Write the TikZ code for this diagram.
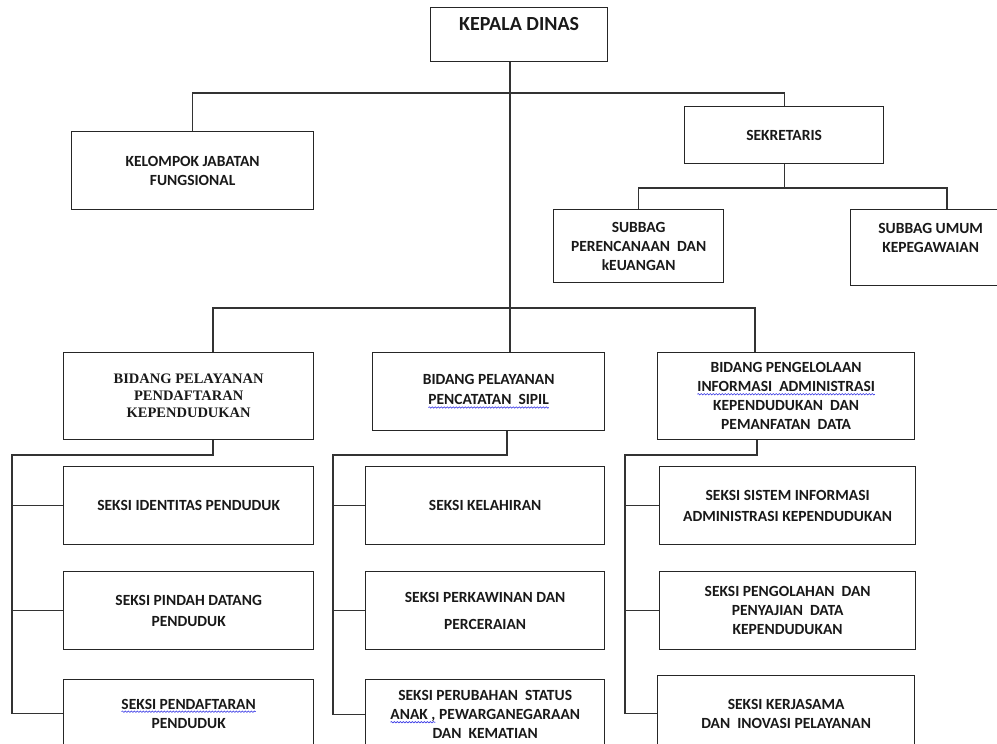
\documentclass[tikz,border=0pt]{standalone}
\usepackage{fontspec}
\usetikzlibrary{decorations.pathmorphing}
\newfontfamily\carlito{Carlito}
\newfontfamily\tnr{Liberation Serif}
\definecolor{spellblue}{RGB}{60,60,230}
\newcommand\spell[1]{\tikz[baseline=(w.base)]{\node[inner sep=0pt, outer sep=0pt, draw=none, fill=none,
  minimum width=0pt, minimum height=0pt, anchor=base] (w) {#1};
  \draw[spellblue, line width=0.6pt, decorate, decoration={snake, amplitude=0.7pt, segment length=3pt}]
  ([yshift=-2.5pt]w.base west) -- ([yshift=-2.5pt]w.base east);}}

\tikzset{
  unit/.style={draw=black!85, line width=1.3pt, fill=white, align=center, inner sep=2pt,
    anchor=north west, text=black!90, font=\carlito\bfseries\fontsize{15.5}{19}\selectfont},
  link/.style={draw=black!80, line width=1.3pt},
}

\begin{document}
\begin{tikzpicture}[x=1pt,y=-1pt]
\useasboundingbox (0,0) rectangle (997,744);
\clip (0,0) rectangle (997,744);
%head and staff
\node[unit, minimum width=177pt, minimum height=54pt, font=\carlito\bfseries\fontsize{20}{22}\selectfont] (kadis) at (430,7) {KEPALA DINAS\\~};
\node[unit, minimum width=242pt, minimum height=78pt] (kjf) at (71,131) {KELOMPOK JABATAN\\FUNGSIONAL};
\node[unit, minimum width=199pt, minimum height=57pt] (sekr) at (684,106) {SEKRETARIS};
\node[unit, minimum width=170pt, minimum height=73pt] (subren) at (553,209) {SUBBAG\\PERENCANAAN~~DAN\\kEUANGAN};
\node[unit, minimum width=160pt, minimum height=76pt] (subum) at (850,209) {SUBBAG UMUM\\KEPEGAWAIAN\\~};
%bidang
\node[unit, minimum width=250pt, minimum height=87pt, font=\tnr\bfseries\fontsize{14.5}{17}\selectfont] (bid1) at (63,352) {BIDANG PELAYANAN\\PENDAFTARAN\\KEPENDUDUKAN};
\node[unit, minimum width=232pt, minimum height=78pt, font=\carlito\bfseries\fontsize{15.5}{20}\selectfont] (bid2) at (372,352) {BIDANG PELAYANAN\\\spell{PENCATATAN~~SIPIL}};
\node[unit, minimum width=257pt, minimum height=87pt] (bid3) at (657,352) {BIDANG PENGELOLAAN\\\spell{INFORMASI~~ADMINISTRASI}\\KEPENDUDUKAN~~DAN\\PEMANFATAN~~DATA};
%seksi, bidang 1
\node[unit, minimum width=250pt, minimum height=78pt] (s11) at (63,466) {SEKSI IDENTITAS PENDUDUK};
\node[unit, minimum width=250pt, minimum height=78pt, font=\carlito\bfseries\fontsize{15.5}{21}\selectfont] (s12) at (63,571) {SEKSI PINDAH DATANG\\PENDUDUK};
\node[unit, minimum width=250pt, minimum height=68pt] (s13) at (63,679) {\spell{SEKSI~PENDAFTARAN}\\PENDUDUK};
%seksi, bidang 2
\node[unit, minimum width=239pt, minimum height=78pt] (s21) at (365,466) {SEKSI KELAHIRAN};
\node[unit, minimum width=239pt, minimum height=78pt] (s22) at (365,571) {SEKSI PERKAWINAN DAN\\[8pt]PERCERAIAN};
\node[unit, minimum width=239pt, minimum height=70pt] (s23) at (365,679) {SEKSI PERUBAHAN~~STATUS\\\spell{ANAK~,}~PEWARGANEGARAAN\\DAN~~KEMATIAN};
%seksi, bidang 3
\node[unit, minimum width=256pt, minimum height=78pt, font=\carlito\bfseries\fontsize{15.5}{21}\selectfont] (s31) at (659,466) {SEKSI SISTEM INFORMASI\\ADMINISTRASI KEPENDUDUKAN};
\node[unit, minimum width=256pt, minimum height=78pt] (s32) at (659,571) {SEKSI PENGOLAHAN~~DAN\\PENYAJIAN~~DATA\\KEPENDUDUKAN};
\node[unit, minimum width=257pt, minimum height=76pt] (s33) at (657,675) {SEKSI KERJASAMA\\DAN~~INOVASI PELAYANAN};

%bus points
\coordinate (trunk) at (510,0);
\coordinate (topbus) at (0,93);
\coordinate (sekbus) at (0,188);
\coordinate (umtap) at (947,0);
\coordinate (b1top) at (213,308);
\coordinate (b3top) at (755,308);
\coordinate (b2tap) at (507,455);
\coordinate (c1) at (12,455);
\coordinate (c2) at (333,455);
\coordinate (c3) at (625,455);
\coordinate (b3tap) at (757,455);

%top lines
\draw[link] (kadis.south -| trunk) -- (bid2.north -| trunk);
\draw[link] (kjf.north) |- (sekr.north |- topbus) -- (sekr.north);
\draw[link] (sekr.south) -- (sekr.south |- sekbus);
\draw[link] (subren.north) |- (umtap |- sekbus) -- (subum.north -| umtap);
\draw[link] (bid1.north -| b1top) -- (b1top) -- (b3top) -- (bid3.north -| b3top);
%bidang 1
\draw[link] (bid1.south -| b1top) |- (c1) |- (s13.west);
\draw[link] (c1 |- s11.west) -- (s11.west);
\draw[link] (c1 |- s12.west) -- (s12.west);
%bidang 2
\draw[link] (bid2.south -| b2tap) -- (b2tap) -- (c2) |- (s23.west);
\draw[link] (c2 |- s21.west) -- (s21.west);
\draw[link] (c2 |- s22.west) -- (s22.west);
%bidang 3
\draw[link] (bid3.south -| b3tap) -- (b3tap) -- (c3) |- (s33.west);
\draw[link] (c3 |- s31.west) -- (s31.west);
\draw[link] (c3 |- s32.west) -- (s32.west);
\end{tikzpicture}
\end{document}
